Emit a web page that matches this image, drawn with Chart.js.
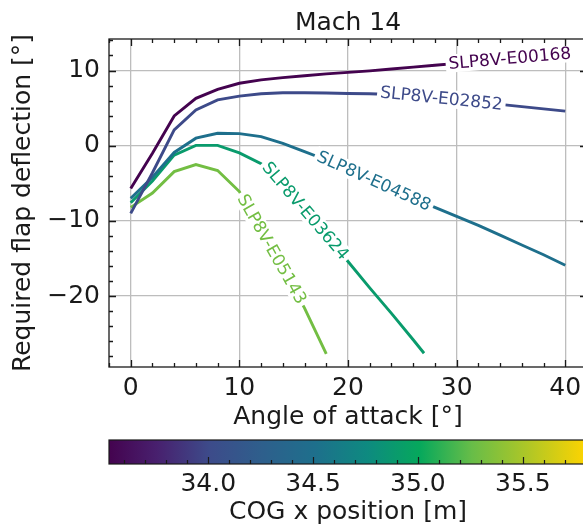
<!DOCTYPE html>
<html>
<head>
<meta charset="utf-8">
<script src="https://cdn.jsdelivr.net/npm/chart.js@4.4.1/dist/chart.umd.min.js"></script>
<style>
  html, body { margin: 0; padding: 0; background: #fff; overflow: hidden; }
  #wrap { position: relative; width: 583px; height: 527px; overflow: hidden; }
  #main { position: absolute; left: 0; top: 0; }
  #cbar { position: absolute; left: 0; top: 430px; }
</style>
</head>
<body>
<div id="wrap">
  <canvas id="main" width="590" height="440"></canvas>
  <canvas id="cbar" width="590" height="97"></canvas>
</div>
<script>
// --- data ---
const names = ['SLP8V-E00168', 'SLP8V-E02852', 'SLP8V-E04588', 'SLP8V-E03624', 'SLP8V-E05143'];
const cogX = [33.53, 34.0, 34.5, 34.9, 35.3];

const aoaLong = [0, 2, 4, 6, 8, 10, 12, 14, 16, 18, 20, 22, 24, 26, 28, 30, 32, 34, 36, 38, 40];
const aoa03624 = [0, 2, 4, 6, 8, 10, 12, 14, 16, 18, 20, 22, 24, 26, 27];
const aoa05143 = [0, 2, 4, 6, 8, 10, 12, 14, 16, 18];

const flap00168 = [-5.7, -1.0, 3.95, 6.3, 7.5, 8.3, 8.75, 9.05, 9.3, 9.55, 9.75, 9.95, 10.2, 10.45, 10.7, 10.95, 11.25, 11.5, 11.75, 12.0, 12.2];
const flap02852 = [-9.0, -3.6, 2.1, 4.75, 6.1, 6.6, 6.9, 7.05, 7.05, 7.0, 6.95, 6.9, 6.8, 6.65, 6.4, 6.1, 5.8, 5.5, 5.2, 4.9, 4.6];
const flap04588 = [-7.0, -4.2, -0.9, 1.0, 1.65, 1.6, 1.2, 0.3, -0.8, -1.9, -3.1, -4.4, -5.7, -7.0, -8.2, -9.4, -10.6, -11.9, -13.2, -14.5, -15.9];
const flap03624 = [-7.6, -4.7, -1.25, 0.05, 0.05, -0.95, -2.4, -5.2, -8.5, -11.9, -15.4, -18.9, -22.3, -25.8, -27.6];
const flap05143 = [-8.2, -6.3, -3.45, -2.5, -3.3, -6.1, -11.2, -16.3, -21.6, -27.7];

const seriesX = [aoaLong, aoaLong, aoaLong, aoa03624, aoa05143];
const seriesY = [flap00168, flap02852, flap04588, flap03624, flap05143];
const labelAt = [34.9, 28.6, 22.4, 16.1, 13.0];

const xTicks = [0, 10, 20, 30, 40];
const yTicks = [-20, -10, 0, 10];
const cbTicks = [34.0, 34.5, 35.0, 35.5];

const xMin = -2, xMax = 42, yMin = -29.43, yMax = 14.19;
const cbMin = 33.527, cbMax = 35.806;

// colormap used by the colour bar and lines
const cmapStops = [
  [0.00, '#44034f'], [0.10, '#48206e'], [0.21, '#3d4b8a'], [0.32, '#2e5f8c'],
  [0.43, '#1e6f8c'], [0.54, '#0e8a80'], [0.65, '#06a85c'], [0.76, '#68bd48'],
  [0.87, '#abc628'], [1.00, '#ffd400']
];
function hex(c) { return [1, 3, 5].map(i => parseInt(c.slice(i, i + 2), 16)); }
function cmap(t) {
  t = Math.max(0, Math.min(1, t));
  for (let i = 0; i < cmapStops.length - 1; i++) {
    const [t0, c0] = cmapStops[i], [t1, c1] = cmapStops[i + 1];
    if (t <= t1) {
      const f = (t - t0) / (t1 - t0), a = hex(c0), b = hex(c1);
      return 'rgb(' + a.map((v, k) => Math.round(v + (b[k] - v) * f)).join(',') + ')';
    }
  }
  return cmapStops[cmapStops.length - 1][1];
}
const lineColors = cogX.map(v => cmap((v - cbMin) / (cbMax - cbMin)));

const FONT = 'DejaVu Sans';
const INK = '#1a1a1a';

function interp(xs, ys, x) {
  for (let i = 0; i < xs.length - 1; i++) {
    if (x >= xs[i] && x <= xs[i + 1]) {
      return ys[i] + (ys[i + 1] - ys[i]) * (x - xs[i]) / (xs[i + 1] - xs[i]);
    }
  }
  return ys[ys.length - 1];
}

// inline labels on the lines
const lineLabels = {
  id: 'lineLabels',
  afterDatasetsDraw(chart) {
    const {ctx, scales: {x, y}} = chart;
    ctx.save();
    ctx.font = '17px "' + FONT + '"';
    ctx.textAlign = 'center';
    ctx.textBaseline = 'middle';
    names.forEach((name, i) => {
      const xs = seriesX[i], ys = seriesY[i], lx = labelAt[i];
      const px = x.getPixelForValue(lx), py = y.getPixelForValue(interp(xs, ys, lx));
      const x0 = x.getPixelForValue(lx - 1), y0 = y.getPixelForValue(interp(xs, ys, lx - 1));
      const x1 = x.getPixelForValue(lx + 1), y1 = y.getPixelForValue(interp(xs, ys, lx + 1));
      const ang = Math.atan2(y1 - y0, x1 - x0);
      const w = ctx.measureText(name).width;
      ctx.save();
      ctx.translate(px, py);
      ctx.rotate(ang);
      ctx.fillStyle = '#fff';
      ctx.fillRect(-w / 2 - 3, -9, w + 6, 18);
      ctx.fillStyle = lineColors[i];
      ctx.fillText(name, 0, 1);
      ctx.restore();
    });
    ctx.restore();
  }
};

// full box with inward major and minor ticks
const frameTicks = {
  id: 'frameTicks',
  afterDraw(chart) {
    const {ctx, chartArea: a, scales: {x, y}} = chart;
    ctx.save();
    ctx.strokeStyle = INK;
    ctx.lineWidth = 1.3;
    ctx.beginPath();
    for (let v = Math.ceil(xMin / 2) * 2; v <= xMax; v += 2) {
      const p = Math.round(x.getPixelForValue(v)) + 0.5;
      const len = v % 10 === 0 ? 7 : 4;
      ctx.moveTo(p, a.bottom); ctx.lineTo(p, a.bottom - len);
      ctx.moveTo(p, a.top); ctx.lineTo(p, a.top + len);
    }
    for (let v = Math.ceil(yMin / 2) * 2; v <= yMax; v += 2) {
      const p = Math.round(y.getPixelForValue(v)) + 0.5;
      const len = v % 10 === 0 ? 7 : 4;
      ctx.moveTo(a.left, p); ctx.lineTo(a.left + len, p);
      ctx.moveTo(a.right, p); ctx.lineTo(a.right - len, p);
    }
    ctx.stroke();
    ctx.strokeRect(a.left, a.top, a.right - a.left, a.bottom - a.top);
    ctx.restore();
  }
};

const tickFont = {family: FONT, size: 25};

new Chart(document.getElementById('main'), {
  type: 'line',
  data: {
    datasets: names.map((name, i) => ({
      label: name,
      data: seriesX[i].map((v, k) => ({x: v, y: seriesY[i][k]})),
      borderColor: lineColors[i],
      borderWidth: 2.9,
      pointRadius: 0,
      tension: 0,
      fill: false
    }))
  },
  options: {
    responsive: false,
    animation: false,
    devicePixelRatio: 1,
    layout: {padding: {left: 0, right: 3, top: 0, bottom: 0}},
    plugins: {
      legend: {display: false},
      tooltip: {enabled: false},
      title: {
        display: true, text: 'Mach 14', fullSize: false, color: INK,
        font: {family: FONT, size: 25, weight: 'normal'},
        padding: {top: 8, bottom: 1}
      }
    },
    scales: {
      x: {
        type: 'linear', min: xMin, max: xMax,
        afterBuildTicks: s => { s.ticks = xTicks.map(v => ({value: v})); },
        afterFit: s => { s.height = 73; },
        grid: {color: '#bdbdbd', lineWidth: 1.3, drawTicks: false},
        border: {display: false},
        ticks: {font: tickFont, color: INK, padding: 6, maxRotation: 0, autoSkip: false},
        title: {display: true, text: 'Angle of attack [°]', font: tickFont, color: INK, padding: {top: 0, bottom: 8}}
      },
      y: {
        type: 'linear', min: yMin, max: yMax,
        afterBuildTicks: s => { s.ticks = yTicks.map(v => ({value: v})); },
        afterFit: s => { s.width = 109; },
        grid: {color: '#bdbdbd', lineWidth: 1.3, drawTicks: false},
        border: {display: false},
        ticks: {
          font: tickFont, color: INK, padding: 9, autoSkip: false,
          callback: v => v < 0 ? '\u2212' + Math.abs(v) : String(v)
        },
        title: {display: true, text: 'Required flap deflection [°]', font: tickFont, color: INK, padding: {top: 8, bottom: 0}}
      }
    }
  },
  plugins: [lineLabels, frameTicks]
});

// colour bar
const cbarTicks = {
  id: 'cbarTicks',
  afterDraw(chart) {
    const {ctx, chartArea: a, scales: {x}} = chart;
    ctx.save();
    ctx.strokeStyle = INK;
    ctx.lineWidth = 1.2;
    ctx.beginPath();
    for (let k = Math.ceil(cbMin * 10); k <= cbMax * 10; k++) {
      const p = Math.round(x.getPixelForValue(k / 10)) + 0.5;
      const len = k % 5 === 0 ? 7 : 4;
      ctx.moveTo(p, a.bottom); ctx.lineTo(p, a.bottom - len);
    }
    ctx.stroke();
    ctx.strokeRect(a.left, a.top, a.right - a.left, a.bottom - a.top);
    ctx.restore();
  }
};

new Chart(document.getElementById('cbar'), {
  type: 'bar',
  data: {
    labels: ['COG'],
    datasets: [{
      data: [[cbMin, cbMax]],
      backgroundColor: c => {
        const area = c.chart.chartArea;
        if (!area) return '#888';
        const g = c.chart.ctx.createLinearGradient(area.left, 0, area.right, 0);
        cmapStops.forEach(([t, col]) => g.addColorStop(t, col));
        return g;
      },
      borderWidth: 0,
      barPercentage: 1,
      categoryPercentage: 1
    }]
  },
  options: {
    indexAxis: 'y',
    responsive: false,
    animation: false,
    devicePixelRatio: 1,
    layout: {padding: {left: 109, right: 3, top: 10, bottom: 0}},
    plugins: {legend: {display: false}, tooltip: {enabled: false}},
    scales: {
      y: {display: false},
      x: {
        type: 'linear', min: cbMin, max: cbMax,
        afterBuildTicks: s => { s.ticks = cbTicks.map(v => ({value: v})); },
        afterFit: s => { s.height = 63; },
        grid: {display: false},
        border: {display: false},
        ticks: {font: tickFont, color: INK, padding: -3, maxRotation: 0, autoSkip: false, callback: v => v.toFixed(1)},
        title: {display: true, text: 'COG x position [m]', font: tickFont, color: INK, padding: {top: 0, bottom: 0}}
      }
    }
  },
  plugins: [cbarTicks]
});
</script>
</body>
</html>
